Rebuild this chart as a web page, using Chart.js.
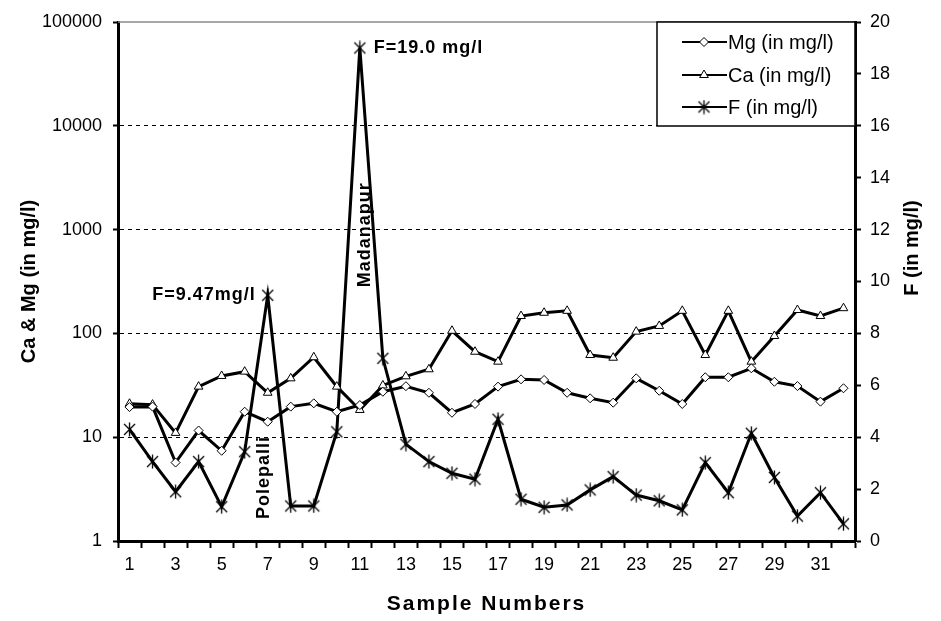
<!DOCTYPE html>
<html>
<head>
<meta charset="utf-8">
<script src="https://cdn.jsdelivr.net/npm/chart.js@4.4.1/dist/chart.umd.min.js"></script>
<style>
  html, body { margin: 0; padding: 0; background: #fff; }
  #wrap { width: 941px; height: 621px; }
</style>
</head>
<body>
<div id="wrap"><canvas id="chart" width="941" height="621"></canvas></div>
<script>
// Sample numbers along the x axis
const samples = ['1','2','3','4','5','6','7','8','9','10','11','12','13','14','15','16',
                 '17','18','19','20','21','22','23','24','25','26','27','28','29','30','31','32'];

// Ca & Mg (mg/l), left log axis
const mgValues = [19.5, 19.7, 5.7, 11.6, 7.4, 17.6, 14.1, 19.7, 21.2, 17.6, 20.4, 27.4, 31.0, 26.8, 17.2, 20.9,
                  30.7, 36.1, 35.6, 26.8, 23.7, 21.5, 36.9, 28.0, 20.9, 37.8, 37.8, 46.1, 34.2, 31.1, 22.0, 29.6];
const caValues = [21.0, 20.6, 11.0, 30.7, 38.9, 42.8, 26.8, 36.9, 58.9, 30.7, 18.3, 31.5, 38.6, 45.1, 106, 66.6,
                  53.4, 147, 158, 165, 61.9, 58.3, 104, 118, 165, 61.9, 165, 53.4, 94.4, 168, 147, 175];
// F (mg/l), right linear axis
const fValues = [4.30, 3.06, 1.90, 3.06, 1.32, 3.44, 9.47, 1.35, 1.35, 4.21, 19.0, 7.04, 3.73, 3.06, 2.61, 2.38,
                 4.69, 1.61, 1.30, 1.39, 1.97, 2.48, 1.77, 1.55, 1.20, 3.02, 1.86, 4.15, 2.45, 0.96, 1.86, 0.66];

// Tick values
const leftTicks = [1, 10, 100, 1000, 10000, 100000];
const rightTicks = [0, 2, 4, 6, 8, 10, 12, 14, 16, 18, 20];

// Text notes placed in data terms (category index, F value)
const notes = [
  { text: 'F=19.0 mg/l', i: 10, v: 19.0, dx: 14, align: 'left', rot: 0 },
  { text: 'F=9.47mg/l', i: 6, v: 9.47, dx: -12, align: 'right', rot: 0 },
  { text: 'Polepalli', i: 5.86, v: 2.45, dx: 0, align: 'center', rot: -Math.PI / 2 },
  { text: 'Madanapur', i: 10.22, v: 11.8, dx: 0, align: 'center', rot: -Math.PI / 2 }
];

const FONT = '"Liberation Sans", Arial, Helvetica, sans-serif';
Chart.defaults.font.family = FONT;
Chart.defaults.color = '#000';

// asterisk-like marker used for F
const starMarker = (() => {
  const c = document.createElement('canvas');
  c.width = 15; c.height = 15;
  const g = c.getContext('2d');
  g.strokeStyle = '#000';
  g.lineWidth = 1.3;
  g.beginPath();
  g.moveTo(2, 2); g.lineTo(13, 13);
  g.moveTo(13, 2); g.lineTo(2, 13);
  g.moveTo(7.5, 0.5); g.lineTo(7.5, 14.5);
  g.stroke();
  return c;
})();

const decorations = {
  id: 'decorations',
  beforeDatasetsDraw(chart) {
    const { ctx, chartArea } = chart;
    // grey frame line along the top of the plot
    ctx.save();
    ctx.strokeStyle = '#8a8a8a';
    ctx.lineWidth = 1.5;
    ctx.beginPath();
    ctx.moveTo(chartArea.left, chartArea.top);
    ctx.lineTo(chartArea.right, chartArea.top);
    ctx.stroke();
    ctx.restore();
  },
  afterDraw(chart) {
    const { ctx, chartArea, scales } = chart;
    ctx.save();
    ctx.fillStyle = '#000';

    // axis titles
    ctx.font = 'bold 20px ' + FONT;
    ctx.textAlign = 'center';
    ctx.textBaseline = 'middle';
    const midY = (chartArea.top + chartArea.bottom) / 2;
    ctx.save();
    ctx.translate(29, midY);
    ctx.rotate(-Math.PI / 2);
    ctx.fillText('Ca & Mg (in mg/l)', 0, 0);
    ctx.restore();
    ctx.save();
    ctx.translate(912, 248);
    ctx.rotate(-Math.PI / 2);
    ctx.fillText('F (in mg/l)', 0, 0);
    ctx.restore();
    ctx.save();
    ctx.font = 'bold 21px ' + FONT;
    ctx.letterSpacing = '2px';
    ctx.fillText('Sample Numbers', (chartArea.left + chartArea.right) / 2, 604);
    ctx.restore();

    // notes
    ctx.font = 'bold 18px ' + FONT;
    ctx.letterSpacing = '1px';
    notes.forEach(n => {
      const x = scales.x.getPixelForValue(n.i) + n.dx;
      const y = scales.y1.getPixelForValue(n.v);
      ctx.save();
      ctx.translate(x, y);
      ctx.rotate(n.rot);
      ctx.textAlign = n.align;
      ctx.fillText(n.text, 0, 0);
      ctx.restore();
    });
    ctx.letterSpacing = '0px';

    // legend box
    const bw = 198, bh = 104;
    const bx = chartArea.right - bw, by = chartArea.top;
    ctx.fillStyle = '#fff';
    ctx.fillRect(bx, by, bw, bh);
    ctx.strokeStyle = '#000';
    ctx.lineWidth = 1.5;
    ctx.strokeRect(bx, by, bw, bh);
    ctx.font = '20px ' + FONT;
    ctx.textAlign = 'left';
    ctx.textBaseline = 'middle';
    const rows = [20, 53, 85];
    chart.data.datasets.forEach((ds, k) => {
      const y = by + rows[k];
      ctx.strokeStyle = '#000';
      ctx.lineWidth = 2;
      ctx.beginPath();
      ctx.moveTo(bx + 25, y);
      ctx.lineTo(bx + 70, y);
      ctx.stroke();
      ctx.fillStyle = '#fff';
      ctx.lineWidth = 1;
      Chart.helpers.drawPoint(ctx, { pointStyle: ds.pointStyle, radius: ds.pointRadius, rotation: 0, borderWidth: 1 }, bx + 47, y);
      ctx.fillStyle = '#000';
      ctx.fillText(ds.label, bx + 71, y + 1);
    });
    ctx.restore();
  }
};

new Chart(document.getElementById('chart'), {
  type: 'line',
  data: {
    labels: samples,
    datasets: [
      {
        label: 'Mg (in mg/l)',
        data: mgValues,
        yAxisID: 'y',
        borderColor: '#000',
        borderWidth: 3,
        pointStyle: 'rectRot',
        pointRadius: 4.5,
        pointBackgroundColor: '#fff',
        pointBorderColor: '#000',
        pointBorderWidth: 1,
        tension: 0
      },
      {
        label: 'Ca (in mg/l)',
        data: caValues,
        yAxisID: 'y',
        borderColor: '#000',
        borderWidth: 3,
        pointStyle: 'triangle',
        pointRadius: 5,
        pointBackgroundColor: '#fff',
        pointBorderColor: '#000',
        pointBorderWidth: 1,
        tension: 0
      },
      {
        label: 'F (in mg/l)',
        data: fValues,
        yAxisID: 'y1',
        borderColor: '#000',
        borderWidth: 3,
        pointStyle: starMarker,
        pointRadius: 7,
        pointBackgroundColor: '#000',
        pointBorderColor: '#000',
        tension: 0
      }
    ]
  },
  options: {
    responsive: false,
    animation: false,
    devicePixelRatio: 1,
    layout: { padding: { top: 22, left: 0, right: 0, bottom: 0 } },
    plugins: {
      legend: { display: false },
      tooltip: { enabled: false }
    },
    scales: {
      x: {
        offset: true,
        grid: { offset: true, drawOnChartArea: false, drawTicks: true, tickLength: 7, tickColor: '#000', tickWidth: 2 },
        border: { color: '#000', width: 3 },
        ticks: {
          autoSkip: false,
          maxRotation: 0,
          color: '#000',
          font: { size: 18 },
          padding: 6,
          callback: (v, i) => (i % 2 === 0 ? samples[i] : '')
        },
        afterFit: s => { s.height = 80; }
      },
      y: {
        type: 'logarithmic',
        position: 'left',
        min: 1,
        max: 100000,
        afterBuildTicks: s => { s.ticks = leftTicks.map(v => ({ value: v })); },
        ticks: {
          color: '#000',
          font: { size: 18 },
          padding: 11,
          callback: v => String(v)
        },
        grid: {
          color: c => (c.tick && (c.tick.value === 1 || c.tick.value === 100000)) ? 'rgba(0,0,0,0)' : '#000',
          lineWidth: 1,
          tickLength: 5,
          tickColor: '#000',
          tickWidth: 2
        },
        border: { color: '#000', width: 3, dash: [4, 4] },
        afterFit: s => { s.width = 118; }
      },
      y1: {
        type: 'linear',
        position: 'right',
        min: 0,
        max: 20,
        afterBuildTicks: s => { s.ticks = rightTicks.map(v => ({ value: v })); },
        ticks: { color: '#000', font: { size: 18 }, padding: 9 },
        grid: { drawOnChartArea: false, tickLength: 6, tickColor: '#000', tickWidth: 2 },
        border: { color: '#000', width: 3 },
        afterFit: s => { s.width = 86; }
      }
    }
  },
  plugins: [decorations]
});
</script>
</body>
</html>
